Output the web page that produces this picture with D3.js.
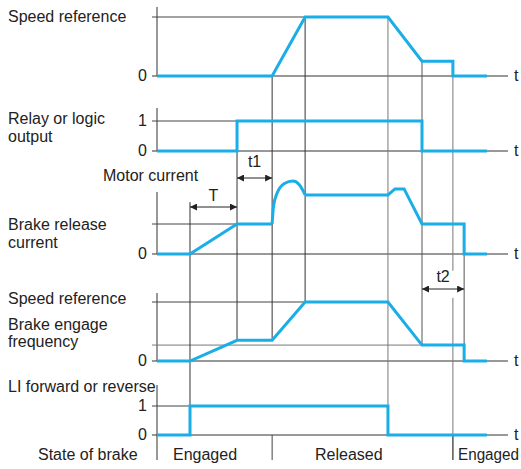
<!DOCTYPE html>
<html>
<head>
<meta charset="utf-8">
<script src="https://cdn.jsdelivr.net/npm/d3@7"></script>
<style>
  body { margin: 0; background: #fff; }
  text { font-family: "Liberation Sans", Arial, sans-serif; font-size: 16px; fill: #222; }
</style>
</head>
<body>
<div class="container"></div>
<script>
// timing events (time units 0..100 along the t axis)
var eventTimes = [9.4, 22.8, 32.8, 42.2, 65.8, 75.5, 84.3, 87.5];
var endTime = 94;

// signals: [time, value]
var speedRef = [[0, 0], [32.8, 0], [42.2, 1], [65.8, 1], [75.5, 0.25], [84.3, 0.25], [84.3, 0], [94, 0]];
var relayOut = [[0, 0], [22.8, 0], [22.8, 1], [75.5, 1], [75.5, 0], [94, 0]];
var currentRise = [[0, 0], [9.4, 0], [22.8, 1], [32.8, 1]];
var currentHump = [[32.8, 1], [33.2, 1.6], [34.3, 2.05], [36.3, 2.35], [38.7, 2.43], [40.6, 2.3], [42.2, 1.97]];
var currentFall = [[42.2, 1.97], [65.8, 1.97], [67.8, 2.17], [70.4, 2.17], [75.5, 1], [87.5, 1], [87.5, 0], [94, 0]];
var freqRef = [[0, 0], [9.4, 0], [22.8, 0.35], [32.8, 0.35], [42.2, 1], [65.8, 1], [75.5, 0.27], [87.5, 0.27], [87.5, 0], [94, 0]];
var liInput = [[0, 0], [9.4, 0], [9.4, 1], [65.8, 1], [65.8, 0], [94, 0]];

var brakeStates = ["Engaged", "Released", "Engaged"];

const WIDTH = 521, HEIGHT = 469;
const BLUE = "#1aaee8";

var _svg = d3.select('.container').append('svg')
    .attr('width', WIDTH)
    .attr('height', HEIGHT);

var _x = d3.scaleLinear().domain([0, 100]).range([157, 508]);

// panel layout
var panels = [
  { y: d3.scaleLinear().domain([0, 1]).range([76, 17]), top: 7,
    labels: [["Speed reference", 8, 22]], ticks: ["0"] },
  { y: d3.scaleLinear().domain([0, 1]).range([151, 121]), top: 108,
    labels: [["Relay or logic", 8, 124], ["output", 8, 142]], ticks: ["0", "1"] },
  { y: d3.scaleLinear().domain([0, 1]).range([254, 224]), top: 192,
    labels: [["Brake release", 8, 230], ["current", 8, 248]], ticks: ["0"] },
  { y: d3.scaleLinear().domain([0, 1]).range([361, 302]), top: 293,
    labels: [["Speed reference", 8, 304], ["Brake engage", 8, 330], ["frequency", 8, 347]], ticks: ["0"] },
  { y: d3.scaleLinear().domain([0, 1]).range([435, 406]), top: 385, bottom: 460,
    labels: [["LI forward or reverse", 8, 392]], ticks: ["0", "1"] }
];

// horizontal reference levels: [panel, value, end time, colour]
var levels = [
  [0, 1, 42.2, "#444"], [1, 1, 22.8, "#444"], [2, 1, 32.8, "#444"],
  [3, 1, 42.2, "#444"], [3, 0.27, 87.5, "#777"], [4, 1, 9.4, "#444"]
];

// vertical guides: [time, top panel, top value, bottom panel, bottom value, colour]
var guides = [
  [9.4, 2, 1.73, 4, 1, "#333"],
  [22.8, 1, 1, 3, 0.35, "#333"],
  [32.8, 0, 0, 3, 0.35, "#333"],
  [42.2, 0, 1, 3, 1, "#333"],
  [65.8, 0, 1, 4, 0, "#777"],
  [75.5, 0, 0.25, 3, 0.27, "#555"],
  [84.3, 0, 0.25, 3, 1.53, "#777"],
  [84.3, 3, 1.07, 4, -0.86, "#777"],
  [87.5, 2, 1, 3, 0.27, "#555"]
];

var line = d3.line().x(function (d) { return _x(d[0]); });

panels.forEach(function (p, i) {
  var y0 = p.y(0);
  // axis
  _svg.append('line')
      .attr('x1', _x(0)).attr('x2', _x(0))
      .attr('y1', p.top).attr('y2', p.bottom || y0)
      .attr('stroke', '#333');
  // zero line
  _svg.append('line')
      .attr('x1', _x(0) - 5).attr('x2', _x(100))
      .attr('y1', y0).attr('y2', y0)
      .attr('stroke', '#333');
  _svg.append('text')
      .attr('x', _x(100) + 6).attr('y', y0 + 5)
      .text('t');
  p.ticks.forEach(function (t) {
    _svg.append('text')
        .attr('x', 147).attr('y', p.y(+t) + 5)
        .attr('text-anchor', 'end')
        .text(t);
  });
  p.labels.forEach(function (l) {
    _svg.append('text').attr('x', l[1]).attr('y', l[2]).text(l[0]);
  });
});

levels.forEach(function (l) {
  var yy = panels[l[0]].y(l[1]);
  _svg.append('line')
      .attr('x1', _x(0) - 5).attr('x2', _x(l[2]))
      .attr('y1', yy).attr('y2', yy)
      .attr('stroke', l[3]);
});

guides.forEach(function (g) {
  _svg.append('line')
      .attr('x1', _x(g[0])).attr('x2', _x(g[0]))
      .attr('y1', panels[g[1]].y(g[2]))
      .attr('y2', panels[g[3]].y(g[4]))
      .attr('stroke', g[5]);
});

// state of brake separators
var sepY = [panels[4].y(0), 460];
[32.8, 84.3].forEach(function (t) {
  _svg.append('line')
      .attr('x1', _x(t)).attr('x2', _x(t))
      .attr('y1', sepY[0]).attr('y2', sepY[1])
      .attr('stroke', '#444');
});

// signals
function drawSignal(data, pi, curve) {
  _svg.append('path')
      .datum(data)
      .attr('d', line.y(function (d) { return panels[pi].y(d[1]); }).curve(curve || d3.curveLinear))
      .attr('fill', 'none')
      .attr('stroke', BLUE)
      .attr('stroke-width', 3)
      .attr('stroke-linejoin', 'miter');
}
drawSignal(speedRef, 0);
drawSignal(relayOut, 1);
drawSignal(currentRise, 2);
drawSignal(currentHump, 2, d3.curveMonotoneX);
drawSignal(currentFall, 2);
drawSignal(freqRef, 3);
drawSignal(liInput, 4);

// arrows
var defs = _svg.append('defs');
defs.append('marker')
    .attr('id', 'ah').attr('viewBox', '0 0 10 10')
    .attr('refX', 10).attr('refY', 5)
    .attr('markerWidth', 9).attr('markerHeight', 7)
    .attr('markerUnits', 'userSpaceOnUse')
    .attr('orient', 'auto-start-reverse')
  .append('path').attr('d', 'M0,0L10,5L0,10z').attr('fill', '#222');

var spans = [
  ["T", 9.4, 22.8, 207, 201],
  ["t1", 22.8, 32.8, 178, 167],
  ["t2", 75.5, 87.5, 289, 282]
];
spans.forEach(function (s) {
  _svg.append('line')
      .attr('x1', _x(s[1])).attr('x2', _x(s[2]))
      .attr('y1', s[3]).attr('y2', s[3])
      .attr('stroke', '#222')
      .attr('marker-start', 'url(#ah)')
      .attr('marker-end', 'url(#ah)');
  _svg.append('text')
      .attr('x', (_x(s[1]) + _x(s[2])) / 2).attr('y', s[4])
      .attr('text-anchor', 'middle')
      .text(s[0]);
});

_svg.append('text').attr('x', 103).attr('y', 181).text('Motor current');

// state of brake row
_svg.append('text').attr('x', 38).attr('y', 460).text('State of brake');
_svg.append('text').attr('x', 173).attr('y', 460).text(brakeStates[0]);
_svg.append('text').attr('x', 315).attr('y', 460).text(brakeStates[1]);
_svg.append('text').attr('x', 458).attr('y', 460)
    .attr('textLength', 61).attr('lengthAdjust', 'spacingAndGlyphs')
    .text(brakeStates[2]);
</script>
</body>
</html>
